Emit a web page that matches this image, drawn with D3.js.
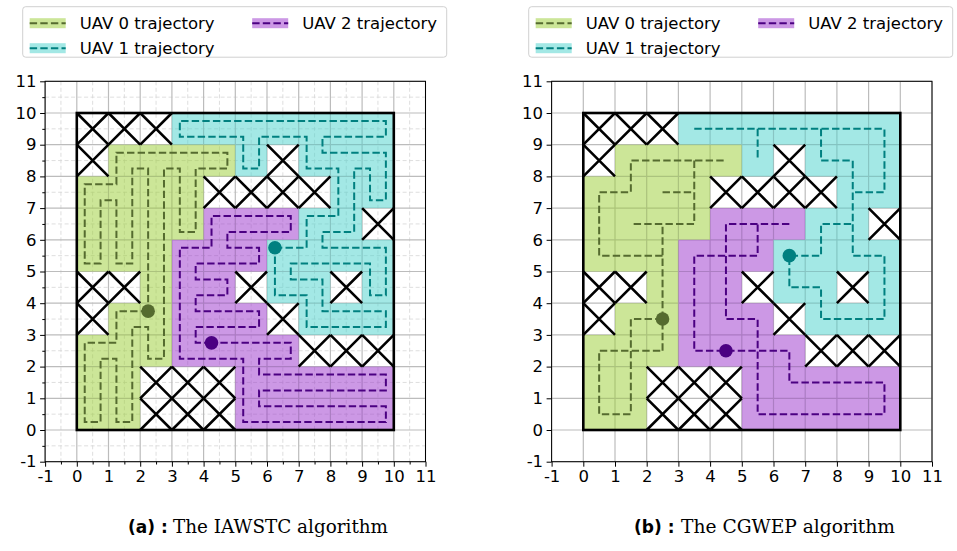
<!DOCTYPE html>
<html lang="en">
<head>
<meta charset="UTF-8">
<title>UAV coverage paths</title>
<script src="https://cdn.jsdelivr.net/npm/d3@7/dist/d3.min.js"></script>
<style>
  html, body { margin: 0; padding: 0; background: #fff; }
  svg { display: block; font-family: "DejaVu Sans", sans-serif; }
</style>
</head>
<body>
<svg width="957" height="551"></svg>
<script>
// 10x10 area, top row first: X = obstacle, 0/1/2 = UAV that owns the cell
const cellMap = [
  "XXX1111111",
  "X00001X111",
  "0000XXXX11",
  "000022211X",
  "0002221111",
  "XX022X11X1",
  "X00222X111",
  "0002222XXX",
  "00XXX22222",
  "00XXX22222"
];
const uavNames = ["UAV 0 trajectory", "UAV 1 trajectory", "UAV 2 trajectory"];
const areaColors = ["yellowgreen", "mediumturquoise", "darkorchid"];
const pathColors = ["darkolivegreen", "teal", "indigo"];
const tickValues = d3.range(-1, 12);
const minorValues = d3.range(-0.5, 11, 1);

// (a) IAWSTC: spanning tree edges [c1,r1,c2,r2]; the path runs round the tree on half cells
const treeA0 = [[0,5,0,6],[0,6,0,7],[0,7,1,7],[1,5,1,6],[1,6,1,7],[1,7,1,8],[1,8,2,8],[2,8,3,8],
  [3,8,4,8],[3,8,3,7],[3,7,3,6],[2,8,2,7],[2,7,2,6],[2,6,2,5],[2,5,2,4],[2,4,2,3],[2,3,2,2],
  [2,3,1,3],[1,3,1,2],[1,2,1,1],[1,1,1,0],[1,2,0,2],[0,2,0,1],[0,1,0,0]];
const treeA1 = [[3,9,4,9],[4,9,5,9],[5,9,6,9],[6,9,7,9],[7,9,8,9],[8,9,9,9],[5,9,5,8],[7,9,7,8],
  [7,8,8,8],[8,8,9,8],[9,8,9,7],[8,8,8,7],[8,7,8,6],[7,6,8,6],[7,6,7,5],[6,5,7,5],[7,5,8,5],
  [8,5,9,5],[9,5,9,4],[6,5,6,4],[6,4,7,4],[7,4,7,3],[7,3,8,3],[8,3,9,3]];
const treeA2 = [[4,6,5,6],[5,6,6,6],[4,6,4,5],[4,5,5,5],[3,5,4,5],[3,5,3,4],[3,4,4,4],[3,4,3,3],
  [3,3,4,3],[4,3,5,3],[3,3,3,2],[3,2,4,2],[4,2,5,2],[5,2,6,2],[5,2,5,1],[5,1,6,1],[6,1,7,1],
  [7,1,8,1],[8,1,9,1],[5,1,5,0],[5,0,6,0],[6,0,7,0],[7,0,8,0],[8,0,9,0]];
const startA = [[2.25,3.75],[6.25,5.75],[4.25,2.75]];

// (b) CGWEP: polylines through cell centres
const pathsB0 = [
  [[2.5,2.5],[2.5,6.5]],
  [[2.5,3.5],[1.5,3.5],[1.5,0.5],[0.5,0.5],[0.5,2.5],[2.5,2.5]],
  [[2.5,5.5],[0.5,5.5],[0.5,7.5],[1.5,7.5],[1.5,8.5],[4.5,8.5]],
  [[3.5,8.5],[3.5,6.5],[1.5,6.5]],
  [[2.5,7.5],[3.5,7.5]]
];
const pathsB1 = [
  [[3.5,9.5],[9.5,9.5],[9.5,7.5],[8.5,7.5]],
  [[5.5,9.5],[5.5,8.5]],
  [[7.5,9.5],[7.5,8.5],[8.5,8.5],[8.5,5.5],[9.5,5.5],[9.5,3.5],[7.5,3.5],[7.5,4.5],[6.5,4.5],
   [6.5,5.5],[7.5,5.5],[7.5,6.5],[8.5,6.5]]
];
const pathsB2 = [
  [[6.5,6.5],[4.5,6.5],[4.5,3.5],[5.5,3.5],[5.5,0.5],[9.5,0.5],[9.5,1.5],[6.5,1.5],[6.5,2.5],
   [3.5,2.5],[3.5,5.5],[5.5,5.5],[5.5,6.5]]
];
const startB = [[2.5,3.5],[6.5,5.5],[4.5,2.5]];

const cells = [];
cellMap.forEach((row, i) => row.split("").forEach((k, c) => cells.push({c: c, r: 9 - i, k: k})));

// closed tour round a spanning tree, walked from the start point
function stcLoop(uav, edges, start) {
  const key = (x, y) => x + "," + y;
  const joinedSet = new Set(edges.map(e => key(e[0], e[1]) + "|" + key(e[2], e[3])));
  const joined = (c1, r1, c2, r2) =>
    joinedSet.has(key(c1, r1) + "|" + key(c2, r2)) || joinedSet.has(key(c2, r2) + "|" + key(c1, r1));
  const adj = new Map();
  const link = (a, b) => {
    const ka = key(a[0], a[1]), kb = key(b[0], b[1]);
    if (!adj.has(ka)) adj.set(ka, []);
    if (!adj.has(kb)) adj.set(kb, []);
    adj.get(ka).push(kb);
    adj.get(kb).push(ka);
  };
  cells.filter(d => d.k === String(uav)).forEach(({c, r}) => {
    const L = c + 0.25, R = c + 0.75, B = r + 0.25, T = r + 0.75;
    if (joined(c, r, c + 1, r)) { link([R, B], [R + 0.5, B]); link([R, T], [R + 0.5, T]); }
    else link([R, B], [R, T]);
    if (joined(c, r, c, r + 1)) { link([L, T], [L, T + 0.5]); link([R, T], [R, T + 0.5]); }
    else link([L, T], [R, T]);
    if (!joined(c, r, c - 1, r)) link([L, B], [L, T]);
    if (!joined(c, r, c, r - 1)) link([L, B], [R, B]);
  });
  const s = key(start[0], start[1]);
  const pts = [start];
  let prev = null, cur = s, guard = 0;
  do {
    const nb = adj.get(cur);
    const nxt = nb[0] !== prev ? nb[0] : nb[1];
    prev = cur; cur = nxt;
    pts.push(cur.split(",").map(Number));
  } while (cur !== s && ++guard < 1000);
  return [pts];
}

const svg = d3.select("svg");
const U = 31.7, Y0 = 430;
const dash = "7.4,3.2";

const panels = [
  {x0: 76.8, minor: true, paths: [0, 1, 2].map(k => stcLoop(k, [treeA0, treeA1, treeA2][k], startA[k])),
   starts: startA, label: "(a) :", title: "The IAWSTC algorithm", capX: 128, titleX: 173, titleW: 215, legendX: 22.7},
  {x0: 583.3, minor: false, paths: [pathsB0, pathsB1, pathsB2],
   starts: startB, label: "(b) :", title: "The CGWEP algorithm", capX: 634, titleX: 681, titleW: 214, legendX: 528.7}
];

panels.forEach(p => {
  const x = d3.scaleLinear().domain([-1, 11]).range([p.x0 - U, p.x0 + 11 * U]);
  const y = d3.scaleLinear().domain([-1, 11]).range([Y0 + U, Y0 - 11 * U]);
  const [xa, xb] = x.range(), [yb, ya] = y.range();
  const g = svg.append("g");

  if (p.minor) {
    const mg = g.append("g").attr("stroke", "#d6d6d6").attr("stroke-width", 0.8).attr("stroke-dasharray", "4,2.5");
    mg.selectAll("line.v").data(minorValues).join("line").attr("class", "v")
      .attr("x1", d => x(d)).attr("x2", d => x(d)).attr("y1", ya).attr("y2", yb);
    mg.selectAll("line.h").data(minorValues).join("line").attr("class", "h")
      .attr("y1", d => y(d)).attr("y2", d => y(d)).attr("x1", xa).attr("x2", xb);
  }
  const gg = g.append("g").attr("stroke", "#bcbcbc").attr("stroke-width", 1.2);
  gg.selectAll("line.v").data(tickValues).join("line").attr("class", "v")
    .attr("x1", d => x(d)).attr("x2", d => x(d)).attr("y1", ya).attr("y2", yb);
  gg.selectAll("line.h").data(tickValues).join("line").attr("class", "h")
    .attr("y1", d => y(d)).attr("y2", d => y(d)).attr("x1", xa).attr("x2", xb);

  // owned cells
  g.append("g").selectAll("rect").data(cells.filter(d => d.k !== "X")).join("rect")
    .attr("x", d => x(d.c)).attr("y", d => y(d.r + 1))
    .attr("width", d => x(d.c + 1) - x(d.c)).attr("height", d => y(d.r) - y(d.r + 1))
    .attr("fill", d => areaColors[+d.k]).attr("fill-opacity", 0.5);

  // obstacles
  g.append("g").selectAll("path").data(cells.filter(d => d.k === "X")).join("path")
    .attr("d", d => `M${x(d.c)},${y(d.r)}L${x(d.c + 1)},${y(d.r + 1)}M${x(d.c)},${y(d.r + 1)}L${x(d.c + 1)},${y(d.r)}`)
    .attr("stroke", "#000").attr("stroke-width", 2.6).attr("fill", "none");

  g.append("rect").attr("x", x(0)).attr("y", y(10)).attr("width", x(10) - x(0)).attr("height", y(0) - y(10))
    .attr("fill", "none").attr("stroke", "#000").attr("stroke-width", 2.6);

  // trajectories
  const line = d3.line().x(d => x(d[0])).y(d => y(d[1]));
  p.paths.forEach((set, k) => {
    g.append("g").selectAll("path").data(set).join("path")
      .attr("d", line).attr("fill", "none")
      .attr("stroke", pathColors[k]).attr("stroke-width", 2).attr("stroke-dasharray", dash);
  });
  g.append("g").selectAll("circle").data(p.starts).join("circle")
    .attr("cx", d => x(d[0])).attr("cy", d => y(d[1])).attr("r", 6.8)
    .attr("fill", (d, i) => pathColors[i]);

  // spines and ticks
  g.append("rect").attr("x", xa).attr("y", ya).attr("width", xb - xa).attr("height", yb - ya)
    .attr("fill", "none").attr("stroke", "#000").attr("stroke-width", 1);
  const fmt = d => String(d);
  g.append("g").attr("transform", `translate(0,${yb})`)
    .call(d3.axisBottom(x).tickValues(tickValues).tickSize(5).tickPadding(3.5).tickFormat(fmt));
  g.append("g").attr("transform", `translate(${xa},0)`)
    .call(d3.axisLeft(y).tickValues(tickValues).tickSize(5).tickPadding(3.5).tickFormat(fmt));
  if (p.minor) {
    g.append("g").attr("transform", `translate(0,${yb})`)
      .call(d3.axisBottom(x).tickValues(minorValues).tickSize(2.8).tickFormat(""));
    g.append("g").attr("transform", `translate(${xa},0)`)
      .call(d3.axisLeft(y).tickValues(minorValues).tickSize(2.8).tickFormat(""));
  }
  g.selectAll(".domain").remove();
  g.selectAll(".tick text").attr("font-size", "16.5px").attr("fill", "#000")
    .style("font-family", "'DejaVu Sans', sans-serif");

  // legend
  const lg = g.append("g").attr("transform", `translate(${p.legendX},6.7)`);
  lg.append("rect").attr("width", 424).attr("height", 50.5).attr("rx", 3)
    .attr("fill", "#fff").attr("fill-opacity", 0.8).attr("stroke", "#d0d0d0");
  const slots = [[7, 16.5], [7, 41.5], [229.5, 16.5]];
  uavNames.forEach((name, k) => {
    const e = lg.append("g").attr("transform", `translate(${slots[k][0]},${slots[k][1]})`);
    e.append("rect").attr("x", 0).attr("y", -5).attr("width", 36).attr("height", 10)
      .attr("fill", areaColors[k]).attr("fill-opacity", 0.5);
    e.append("line").attr("x1", 0).attr("x2", 36).attr("stroke", pathColors[k])
      .attr("stroke-width", 2).attr("stroke-dasharray", dash);
    e.append("text").attr("x", 50).attr("y", 5.8).attr("font-size", "16.5px").text(name);
  });

  // caption
  svg.append("text").attr("x", p.capX).attr("y", 533).attr("font-size", "17px")
    .attr("font-weight", "bold").text(p.label);
  svg.append("text").attr("x", p.titleX).attr("y", 533).attr("font-size", "18px")
    .style("font-family", "'DejaVu Serif', 'Liberation Serif', serif").attr("textLength", p.titleW)
    .attr("lengthAdjust", "spacingAndGlyphs").text(p.title);
});
</script>
</body>
</html>
